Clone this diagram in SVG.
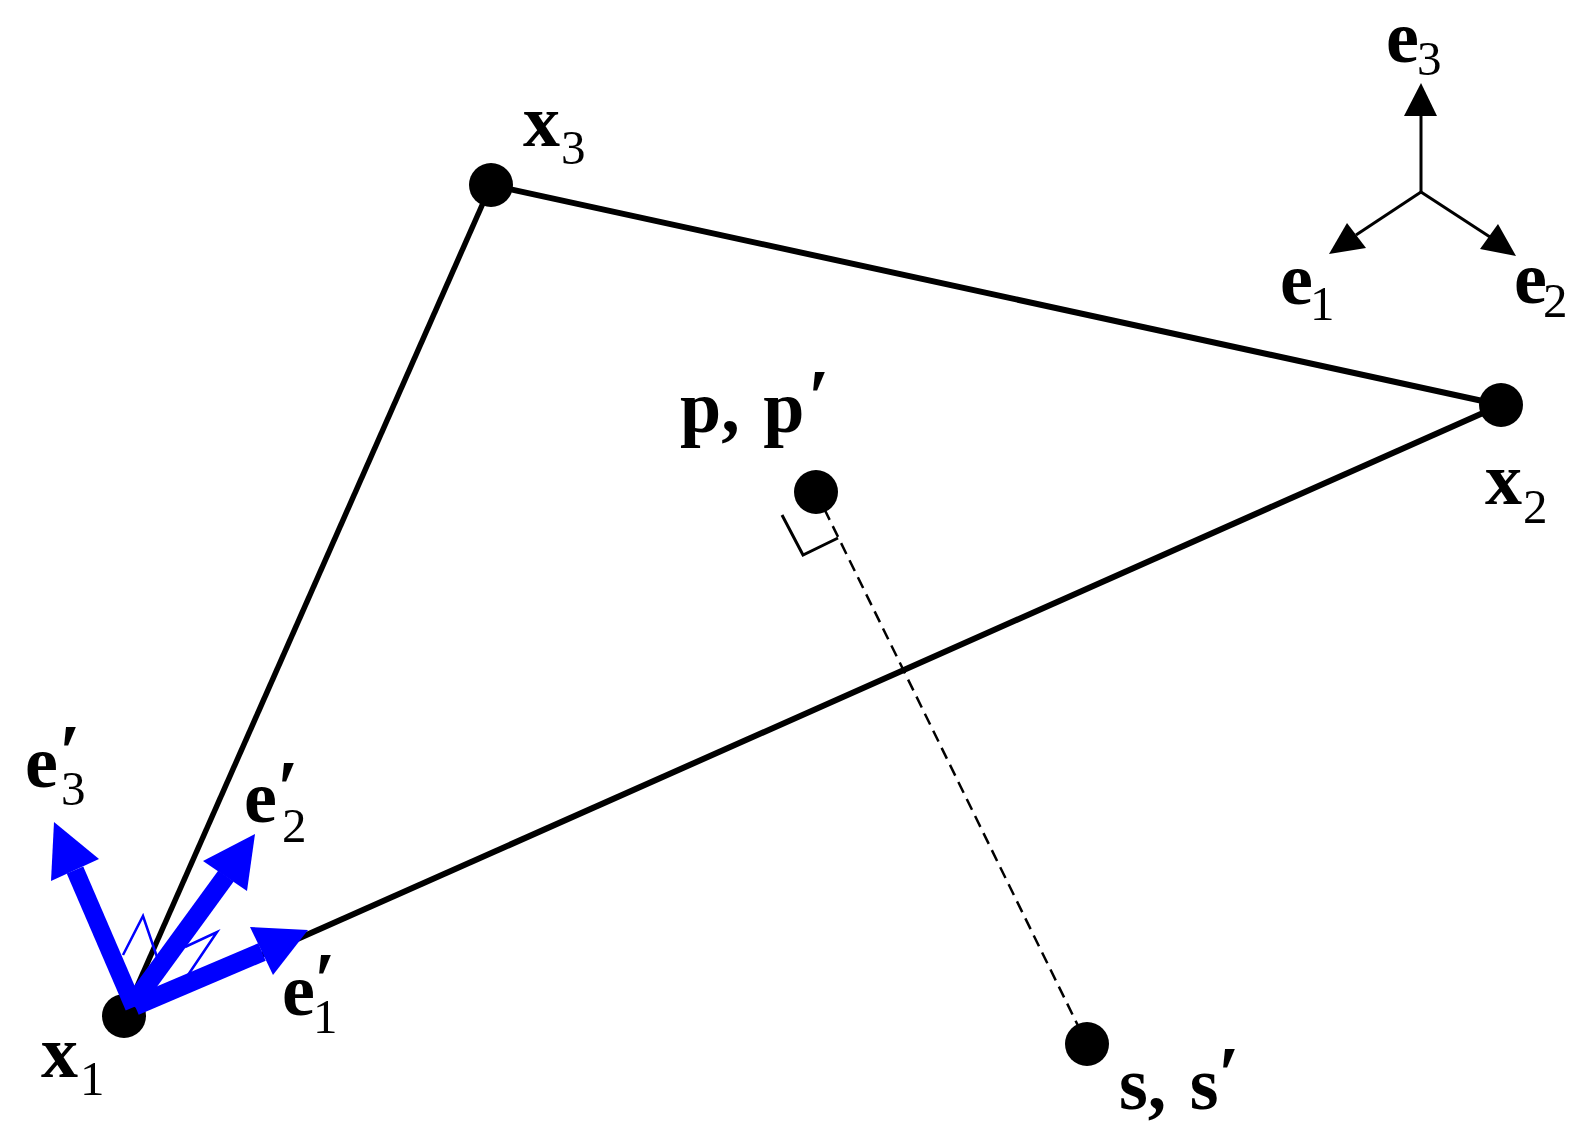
<svg xmlns="http://www.w3.org/2000/svg" width="1586" height="1146" viewBox="0 0 1586 1146">
<style>
text{font-family:"Liberation Serif","Times New Roman",serif;fill:#000}
.b{font-weight:700;font-size:74px}
.s{font-size:49px;font-weight:400}
.p{font-size:78px;font-weight:700}
.k{stroke:#000;fill:none;stroke-linecap:butt}
.blue{stroke:#00f;fill:none}
.bh{fill:#00f;stroke:none}
.kh{fill:#000;stroke:none}
.dot{fill:#000}
</style>
<rect width="1586" height="1146" fill="#fff"/>
<g id="connectors">
<line id="x3-x2" class="k" stroke-width="6" x1="491" y1="185" x2="1501" y2="405"/>
<line id="x1-x3" class="k" stroke-width="5.5" x1="124" y1="1016" x2="491" y2="185"/>
<line id="x1-x2" class="k" stroke-width="6" x1="124" y1="1016" x2="1501" y2="405"/>
<line id="p-s" class="k" stroke-width="2.5" stroke-dasharray="12 7" x1="816" y1="492" x2="1087" y2="1044"/>
<polyline id="right-angle" class="k" stroke-width="3" points="782,515 803,555 838,538"/>
<g id="frame-axes">
<line class="k" stroke-width="3" x1="1421" y1="192" x2="1421" y2="114"/>
<line class="k" stroke-width="3" x1="1421" y1="192" x2="1356" y2="235"/>
<line class="k" stroke-width="3" x1="1421" y1="192" x2="1490" y2="237"/>
<polygon class="kh" points="1421,83 1404,116 1437,116"/>
<polygon class="kh" points="1329,254 1347,223 1366,248"/>
<polygon class="kh" points="1516,256 1498,224 1480,249"/>
</g>
</g>
<g id="node-x3"><circle class="dot" cx="491" cy="185" r="22"/><text class="b" x="523" y="146">x</text><text class="s" x="561" y="164">3</text></g>
<g id="node-x2"><circle class="dot" cx="1501" cy="405" r="22"/><text class="b" x="1485" y="504">x</text><text class="s" x="1523" y="523">2</text></g>
<g id="node-x1"><circle class="dot" cx="124" cy="1016" r="22"/><text class="b" x="41" y="1077">x</text><text class="s" x="80" y="1095">1</text></g>
<g id="node-p"><circle class="dot" cx="816" cy="492" r="22"/><text class="b" x="680" y="432" word-spacing="5">p, p</text><text class="p" x="808" y="423">′</text></g>
<g id="node-s"><circle class="dot" cx="1087" cy="1044" r="22"/><text class="b" x="1119" y="1109" word-spacing="5">s, s</text><text class="p" x="1218" y="1100">′</text></g>
<g id="frame-labels">
<text class="b" x="1386" y="62">e</text><text class="s" x="1417" y="75">3</text>
<text class="b" x="1280" y="304">e</text><text class="s" x="1310" y="320">1</text>
<text class="b" x="1514" y="303">e</text><text class="s" x="1543" y="317">2</text>
</g>
<g id="local-frame">
<g class="blue">
<polyline stroke-width="2.5" points="123,955 143,916 157,957"/>
<polyline stroke-width="2.5" points="185,947 217,932 188,975"/>
<line stroke-width="18" x1="134" y1="1007" x2="75" y2="870"/>
<line stroke-width="19" x1="132" y1="1005" x2="226" y2="876"/>
<line stroke-width="19" x1="135" y1="1006" x2="262" y2="952"/>
</g>
<polygon class="bh" points="54,822 99,859 51,881"/>
<polygon class="bh" points="255,834 203,861 247,891"/>
<polygon class="bh" points="308,930 250,927 273,975"/>
</g>
<g id="local-labels">
<text class="b" x="25" y="787">e</text><text class="p" x="59" y="778">′</text><text class="s" x="61" y="805">3</text>
<text class="b" x="244" y="822">e</text><text class="p" x="277" y="814">′</text><text class="s" x="282" y="842">2</text>
<text class="b" x="282" y="1015">e</text><text class="p" x="314" y="1006">′</text><text class="s" x="313" y="1033">1</text>
</g>
</svg>
